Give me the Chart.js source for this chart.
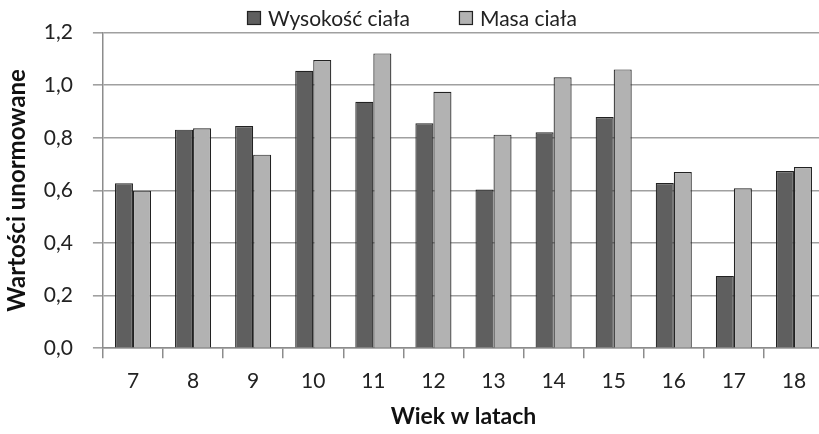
<!DOCTYPE html>
<html>
<head>
<meta charset="utf-8">
<script src="https://cdn.jsdelivr.net/npm/chart.js@4.4.1/dist/chart.umd.min.js"></script>
<style>
  html, body { margin: 0; padding: 0; background: #fff; overflow: hidden; }
  #wrap { width: 824px; height: 434px; }
</style>
</head>
<body>
<div id="wrap"><canvas id="wykres"></canvas></div>
<script>
var wiek = ['7','8','9','10','11','12','13','14','15','16','17','18']
var wysokosc = [0.627, 0.831, 0.845, 1.055, 0.937, 0.855, 0.603, 0.821, 0.879, 0.628, 0.275, 0.674]
var masa = [0.599, 0.836, 0.736, 1.096, 1.121, 0.975, 0.812, 1.030, 1.060, 0.670, 0.608, 0.689]
var nazwySerii = ['Wysokość ciała', 'Masa ciała']
var kolory = ['#5f5f5f', '#b2b2b2']

var czcionka = 'Lato, "Open Sans", sans-serif'

// legenda rysowana recznie, zeby odstepy byly jak na oryginale
const legendaPlugin = {
  id: 'legenda',
  afterDraw(chart) {
    const ctx = chart.ctx
    ctx.save()
    ctx.font = '21px ' + czcionka
    ctx.textBaseline = 'middle'
    let x = 247
    const y = 18
    chart.data.datasets.forEach(function (ds, i) {
      ctx.fillStyle = ds.backgroundColor
      ctx.fillRect(x, y - 7, 14, 14)
      ctx.strokeStyle = '#222'
      ctx.lineWidth = 1.2
      ctx.strokeRect(x + 0.5, y - 6.5, 13, 13)
      ctx.fillStyle = '#222'
      ctx.fillText(ds.label, x + 21, y + 1)
      x += 21 + ctx.measureText(ds.label).width + 49
    })
    ctx.restore()
  }
}

const dane = {
  labels: wiek,
  datasets: [{
    label: nazwySerii[0],
    data: wysokosc,
    backgroundColor: kolory[0],
    borderColor: '#222',
    borderWidth: 1.2
  }, {
    label: nazwySerii[1],
    data: masa,
    backgroundColor: kolory[1],
    borderColor: '#222',
    borderWidth: 1.2
  }]
}

const config = {
  type: 'bar',
  data: dane,
  plugins: [legendaPlugin],
  options: {
    responsive: true,
    maintainAspectRatio: false,
    animation: false,
    layout: { padding: { top: 31, left: 0, right: 0, bottom: 4 } },
    categoryPercentage: 0.6,
    barPercentage: 1.0,
    plugins: {
      legend: { display: false },
      tooltip: { enabled: false }
    },
    scales: {
      x: {
        grid: { display: true, drawOnChartArea: false, tickLength: 10, color: '#8c8c8c', lineWidth: 1.5 },
        border: { color: '#8c8c8c', width: 1.5 },
        ticks: { color: '#222', font: { family: czcionka, size: 21 }, padding: 10 },
        title: { display: true, text: 'Wiek w latach', color: '#111', font: { family: czcionka, size: 23, weight: 'bold' }, padding: { top: -1, bottom: 0 } }
      },
      y: {
        min: 0,
        max: 1.2,
        grid: { color: '#a0a0a0', lineWidth: 1.6, tickLength: 10 },
        border: { color: '#8c8c8c', width: 1.5 },
        ticks: {
          stepSize: 0.2,
          color: '#222',
          font: { family: czcionka, size: 21 },
          padding: 20,
          callback: function (v) { return v.toFixed(1).replace('.', ',') }
        },
        title: { display: true, text: 'Wartości unormowane', color: '#111', font: { family: czcionka, size: 24, weight: 'bold' }, padding: { top: 3, bottom: -8 } }
      }
    }
  }
}

new Chart(document.getElementById('wykres'), config)
</script>
</body>
</html>
